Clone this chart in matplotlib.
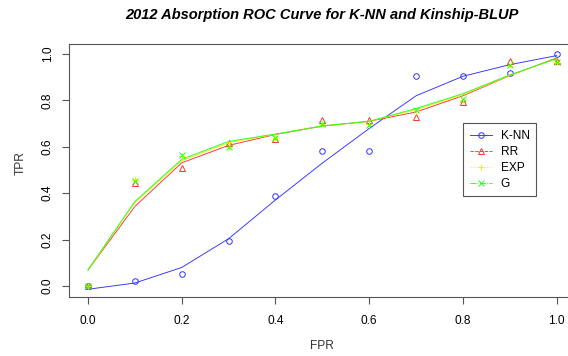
import numpy as np
import matplotlib
matplotlib.use("Agg")
import matplotlib.pyplot as plt
from matplotlib.lines import Line2D

plt.rcParams['font.family'] = ['Liberation Sans', 'DejaVu Sans']

fpr = [0.0, 0.1, 0.2, 0.3, 0.4, 0.5, 0.6, 0.7, 0.8, 0.9, 1.0]

# observed TPR per model
knn_pts = [0.00, 0.02, 0.05, 0.196, 0.387, 0.58, 0.58, 0.904, 0.904, 0.92, 1.0]
rr_pts = [0.0, 0.443, 0.507, 0.617, 0.634, 0.714, 0.714, 0.73, 0.795, 0.971, 0.97]
exp_pts = [0.0, 0.455, 0.56, 0.60, 0.64, 0.70, 0.70, 0.755, 0.80, 0.95, 0.965]
g_pts = [0.0, 0.452, 0.564, 0.597, 0.64, 0.70, 0.693, 0.76, 0.806, 0.953, 0.964]

# smoothed curves
knn_fit = [-0.014, 0.013, 0.08, 0.204, 0.371, 0.53, 0.679, 0.82, 0.904, 0.954, 0.993]
rr_fit = [0.069, 0.343, 0.531, 0.606, 0.653, 0.689, 0.71, 0.75, 0.82, 0.907, 0.983]
exp_fit = [0.068, 0.36, 0.54, 0.618, 0.654, 0.69, 0.71, 0.76, 0.825, 0.908, 0.98]
g_fit = [0.07, 0.364, 0.546, 0.623, 0.655, 0.69, 0.71, 0.765, 0.829, 0.91, 0.98]

labels = ["K-NN", "RR", "EXP", "G"]
cols = ["#3030ff", "#ff3030", "#f0f000", "#20ff20"]
marks = ["o", "^", "+", "x"]
styles = ["-", "--", ":", "-."]

fig = plt.figure(figsize=(5.68, 3.56), dpi=100)
ax = fig.add_axes([69/568, 1-296.7/356, (575.5-69)/568, (296.7-44)/356])

for pts, fit, c, m in zip([knn_pts, rr_pts, exp_pts, g_pts],
                          [knn_fit, rr_fit, exp_fit, g_fit], cols, marks):
    ax.plot(fpr, pts, linestyle="none", marker=m, markersize=4,
            markerfacecolor="none", markeredgecolor=c, markeredgewidth=0.7)
    ax.plot(fpr, fit, color=c, linewidth=0.65)

ax.set_xlim(-0.0405, 1.04)
ax.set_ylim(-0.046, 1.043)
ax.set_xticks(np.arange(0, 1.01, 0.2))
ax.set_yticks(np.arange(0, 1.01, 0.2))
ax.set_xticklabels(["%.1f" % v for v in np.arange(0, 1.01, 0.2)])
ax.set_yticklabels(["%.1f" % v for v in np.arange(0, 1.01, 0.2)],
                   rotation=90, va="center")
ax.tick_params(length=5, width=0.8, color="#555555", labelsize=8.6)
ax.tick_params(axis="x", pad=8)
ax.tick_params(axis="y", pad=6)
for s in ax.spines.values():
    s.set_color("#555555")
    s.set_linewidth(0.8)

fig.text(322/568, 1-15/356, "2012 Absorption ROC Curve for K-NN and Kinship-BLUP",
         ha="center", va="center", fontsize=10.5, fontweight="bold",
         fontstyle="italic")
fig.text(322/568, 1-346/356, "FPR", ha="center", va="center",
         fontsize=8.6, color="#333333")
fig.text(21/568, 1-163/356, "TPR", ha="center", va="center", rotation=90,
         fontsize=8.6, color="#333333")

handles = [Line2D([], [], color=c, linestyle=ls, marker=m, markersize=4,
                  markerfacecolor="none", markeredgewidth=0.7, linewidth=0.65)
           for c, ls, m in zip(cols, styles, marks)]
leg = ax.legend(handles, labels, loc="upper left",
                bbox_to_anchor=(463/568, 1-123.3/356),
                bbox_transform=fig.transFigure, fontsize=8.6,
                frameon=True, fancybox=False, framealpha=1, borderaxespad=0,
                borderpad=0.55, labelspacing=0.33, handlelength=1.9,
                handletextpad=0.7)
leg.get_frame().set_edgecolor("#555555")
leg.get_frame().set_linewidth(0.8)

fig.savefig("out.png", dpi=100)
